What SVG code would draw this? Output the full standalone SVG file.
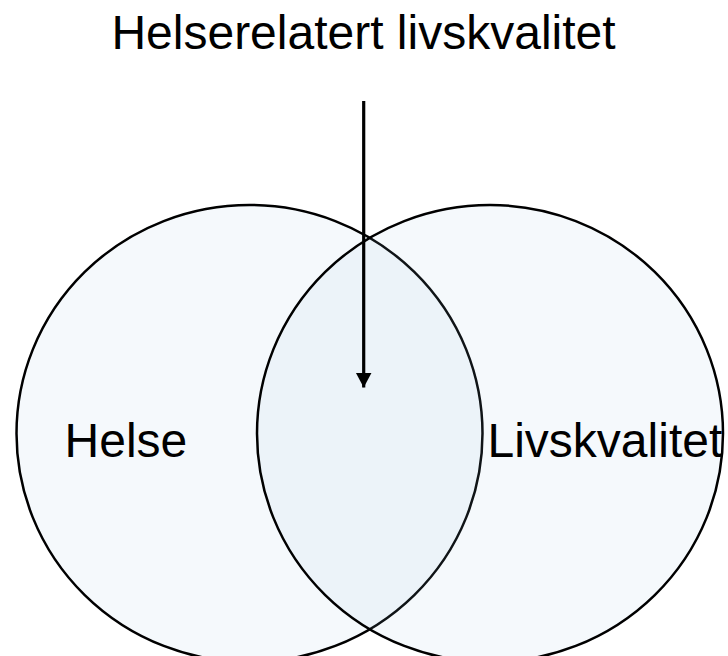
<svg xmlns="http://www.w3.org/2000/svg" width="728" height="656" viewBox="0 0 728 656">
<style>
.set{fill:rgb(160,200,222);fill-opacity:0.1;stroke:#000;stroke-width:2.5}
.lbl{font-family:"Liberation Sans",Arial,sans-serif;font-size:48px;fill:#000}
.conn{stroke:#000;stroke-width:3.2;fill:none}
</style>
<defs>
<marker id="ah" markerUnits="userSpaceOnUse" markerWidth="17" markerHeight="17" refX="15" refY="8" orient="auto">
<path d="M0,0 L15,8 L0,16 Z" fill="#000"/>
</marker>
</defs>
<rect width="728" height="656" fill="#fff"/>
<g id="helse">
<ellipse class="set" cx="249.5" cy="433.5" rx="233" ry="228.5"/>
<text class="lbl" x="64.6" y="457">Helse</text>
</g>
<g id="livskvalitet">
<ellipse class="set" cx="490" cy="433.5" rx="233" ry="228.5"/>
<text class="lbl" x="487.5" y="457">Livskvalitet</text>
</g>
<g id="title">
<text class="lbl" x="363.5" y="49" text-anchor="middle">Helserelatert livskvalitet</text>
</g>
<g id="connectors">
<line class="conn" x1="363.7" y1="101" x2="363.7" y2="387.5" marker-end="url(#ah)"/>
</g>
</svg>
